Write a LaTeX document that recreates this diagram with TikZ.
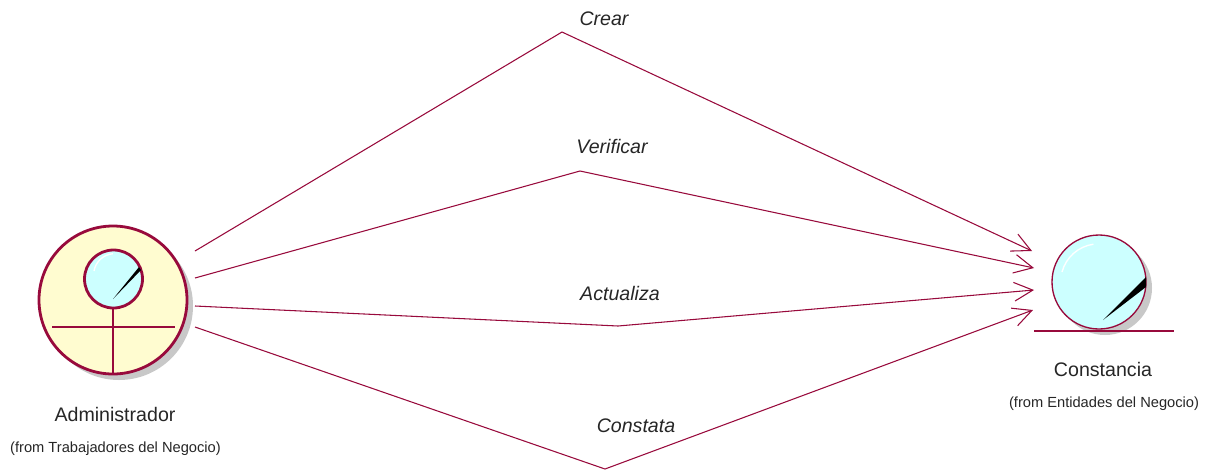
\documentclass[tikz,border=0pt]{standalone}
\usepackage{fontspec}
\setmainfont{Liberation Sans}
\usetikzlibrary{arrows.meta}
\definecolor{rose}{RGB}{152,10,60}
\definecolor{paleyellow}{RGB}{255,252,208}
\definecolor{palecyan}{RGB}{204,255,255}
\definecolor{shade}{RGB}{200,200,200}
\tikzset{
  x=0.75pt,y=-0.75pt,
  assoc/.style={draw=rose,line width=0.8pt,line join=miter,-{Straight Barb[length=14pt,width=14pt,line width=0.8pt]}},
  outline/.style={draw=rose,line width=2.1pt},
  thinoutline/.style={draw=rose,line width=1pt},
  shadowdisc/.style={fill=shade,draw=none,circle,inner sep=0pt},
  name label/.style={font=\fontsize{14.7pt}{16pt}\selectfont,text=black!85,inner sep=0pt},
  from label/.style={font=\fontsize{11pt}{12pt}\selectfont,text=black!85,inner sep=0pt},
  verb label/.style={font=\fontsize{14.7pt}{16pt}\selectfont\itshape,text=black!85,inner sep=0pt},
}
\begin{document}
\begin{tikzpicture}
\useasboundingbox (0,0) rectangle (1210,472);
% actor
\node[shadowdisc,minimum size=111pt] at (119,306) {};
\node[outline,fill=paleyellow,circle,inner sep=0pt,minimum size=111pt] (actor) at (113,300) {};
\node[outline,fill=palecyan,circle,inner sep=0pt,minimum size=43.5pt] (head) at (113.5,279) {};
\draw[white,line width=1pt] (94,271) arc[start angle=190,end angle=265,radius=21];
\coordinate (legtop) at (113,307);
\coordinate (legbottom) at (113,374);
\coordinate (armleft) at (52,327);
\coordinate (armright) at (175,327);
\draw[outline] (legtop) -- (legbottom);
\draw[outline] (armleft) -- (armright);
\coordinate (needleA) at (113,299);
\coordinate (needleC) at (139,267);
\coordinate (needleD) at (141,270);
\fill[black] (needleA) -- (needleC) -- (needleD) -- cycle;
% entity
\node[shadowdisc,minimum size=70.5pt] at (1105,288) {};
\node[thinoutline,fill=palecyan,circle,inner sep=0pt,minimum size=70.5pt] (entity) at (1099,282) {};
\draw[white,line width=1pt] (1062,272) arc[start angle=195,end angle=262,radius=38];
\coordinate (baseL) at (1034,331);
\coordinate (baseR) at (1174,331);
\draw[thinoutline] (baseL) -- (baseR);
\coordinate (entneedleA) at (1103,320);
\coordinate (entneedleB) at (1146,277);
\coordinate (entneedleC) at (1146,287);
\fill[black] (entneedleA) -- (entneedleB) -- (entneedleC) -- cycle;
% connector ends
\coordinate (s1) at (195,251); \coordinate (m1) at (562,32);  \coordinate (e1) at (1032,251);
\coordinate (s2) at (195,278); \coordinate (m2) at (580,171); \coordinate (e2) at (1034,268);
\coordinate (s3) at (195,306); \coordinate (m3) at (618,326); \coordinate (e3) at (1034,290);
\coordinate (s4) at (195,327); \coordinate (m4) at (605,469); \coordinate (e4) at (1033,310);
\draw[assoc] (s1) -- (m1) -- (e1);
\draw[assoc] (s2) -- (m2) -- (e2);
\draw[assoc] (s3) -- (m3) -- (e3);
\draw[assoc] (s4) -- (m4) -- (e4);
% labels
\node[verb label] (crear) at (604,19) {Crear};
\node[verb label] (verificar) at (612,146) {Verificar};
\node[verb label] (actualiza) at (620,293) {Actualiza};
\node[verb label] (constata) at (636,426) {Constata};
\node[name label] (adminlabel) at (115,414) {Administrador};
\node[from label] (adminfrom) at (115.5,449) {(from Trabajadores del Negocio)};
\node[name label] (constlabel) at (1103,369) {Constancia};
\node[from label] (constfrom) at (1104,404) {(from Entidades del Negocio)};
\end{tikzpicture}
\end{document}
